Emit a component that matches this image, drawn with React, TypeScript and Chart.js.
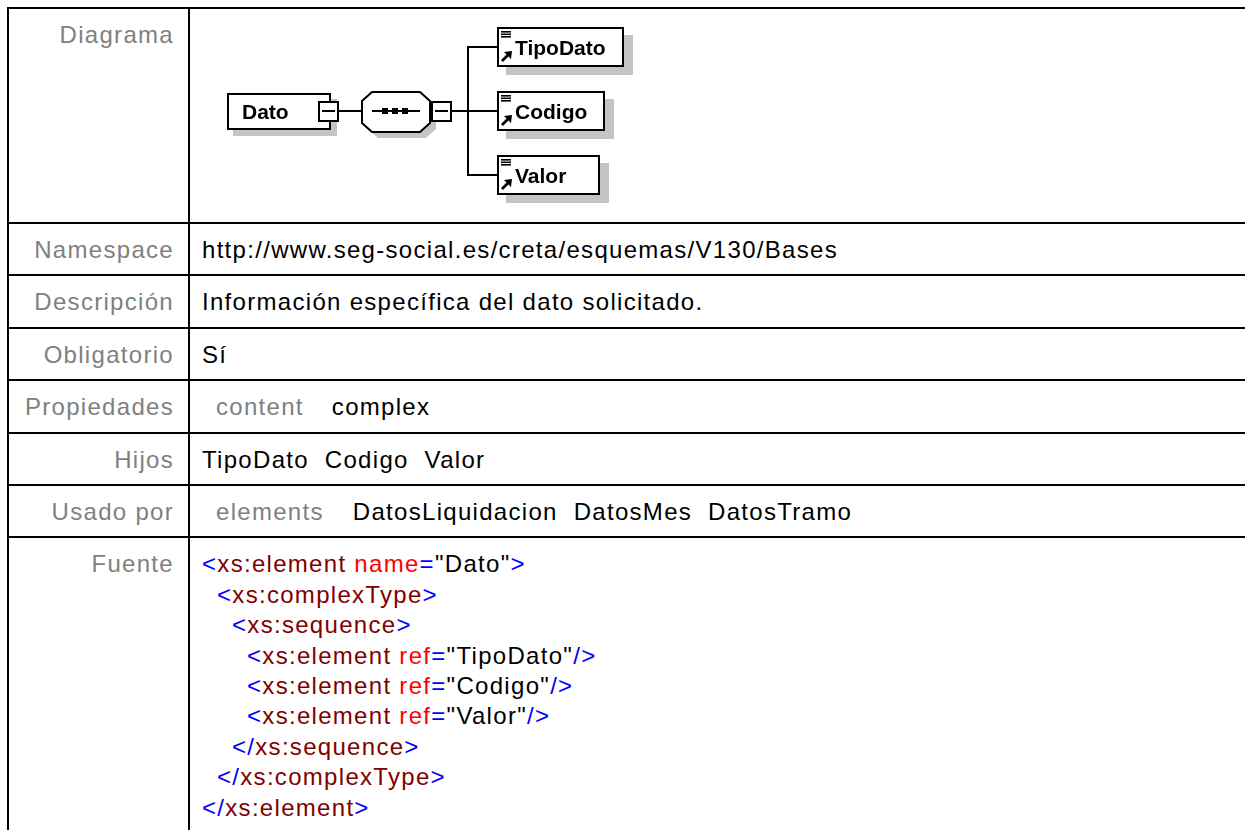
import React, { useEffect, useRef } from "react";
import { Chart, registerables } from "chart.js";

Chart.register(...registerables);

// ---------- data ----------
const ROW_LABELS = ["Diagrama", "Namespace", "Descripción", "Obligatorio", "Propiedades", "Hijos", "Usado por", "Fuente"];
const ROOT_ELEMENT = "Dato";
const CHILD_ELEMENTS = ["TipoDato", "Codigo", "Valor"];
const NAMESPACE = "http://www.seg-social.es/creta/esquemas/V130/Bases";
const DESCRIPTION = "Información específica del dato solicitado.";
const REQUIRED = "Sí";
const PROPERTY_NAMES = ["content"];
const PROPERTY_VALUES = ["complex"];
const USED_BY_KIND = "elements";
const USED_BY = ["DatosLiquidacion", "DatosMes", "DatosTramo"];

// diagram nodes: root, compositor, children (level = column, row = vertical slot)
const NODE_LEVELS = [0, 1, 2, 2, 2];
const NODE_ROWS = [1, 1, 0, 1, 2];

// axis domains of the (hidden) diagram scales
const X_MIN = -0.1973;
const X_MAX = 4.2373;
const Y_MIN = -0.4219;
const Y_MAX = 2.5937;

const FONT = '"Liberation Sans", Arial, Helvetica, sans-serif';
const SHADOW = "#c4c4c4";
const MIN_BOX_W = 103;

// ---------- drawing helpers ----------
function box(ctx: CanvasRenderingContext2D, x: number, y: number, w: number, h: number, lw = 2) {
  ctx.fillStyle = "#ffffff";
  ctx.fillRect(x, y, w, h);
  ctx.fillStyle = "#000000";
  ctx.fillRect(x, y, w, lw);
  ctx.fillRect(x, y + h - lw, w, lw);
  ctx.fillRect(x, y, lw, h);
  ctx.fillRect(x + w - lw, y, lw, h);
}
function hline(ctx: CanvasRenderingContext2D, x1: number, x2: number, y: number, lw = 2) {
  ctx.fillStyle = "#000000";
  ctx.fillRect(Math.min(x1, x2), y - lw / 2, Math.abs(x2 - x1), lw);
}
function vline(ctx: CanvasRenderingContext2D, x: number, y1: number, y2: number, lw = 2) {
  ctx.fillStyle = "#000000";
  ctx.fillRect(x - lw / 2, Math.min(y1, y2) - lw / 2, lw, Math.abs(y2 - y1) + lw);
}
function minusBox(ctx: CanvasRenderingContext2D, x: number, y: number, s: number) {
  box(ctx, x, y, s, s, 2);
  ctx.fillStyle = "#000000";
  ctx.fillRect(x + 4, y + Math.floor(s / 2) - 1, s - 8, 2);
}
function octagonPath(ctx: CanvasRenderingContext2D, x: number, top: number, w: number, h: number, c: number, cv: number) {
  ctx.beginPath();
  ctx.moveTo(x, top + cv);
  ctx.lineTo(x + c, top);
  ctx.lineTo(x + w - c, top);
  ctx.lineTo(x + w, top + cv);
  ctx.lineTo(x + w, top + h - cv);
  ctx.lineTo(x + w - c, top + h);
  ctx.lineTo(x + c, top + h);
  ctx.lineTo(x, top + h - cv);
  ctx.closePath();
}

const diagramPlugin = {
  id: "xsdDiagram",
  afterDatasetsDraw(chart: any) {
    const ctx: any = chart.ctx;
    const meta = chart.getDatasetMeta(0);
    const pts = meta.data.map((p: any) => ({ x: Math.round(p.x), y: Math.round(p.y) }));
    ctx.save();
    if ("letterSpacing" in ctx) ctx.letterSpacing = "0px";
    ctx.font = `bold 21px ${FONT}`;
    ctx.textBaseline = "alphabetic";

    // ----- root element -----
    const r = pts[0];
    const rtw = ctx.measureText(ROOT_ELEMENT).width;
    const rw = Math.max(MIN_BOX_W, Math.round(rtw + 57));
    const rh = 37;
    const ry = r.y - 18;
    ctx.fillStyle = SHADOW;
    ctx.fillRect(r.x + 6, ry + 6, rw, rh);
    box(ctx, r.x, ry, rw, rh);
    ctx.fillStyle = "#000000";
    ctx.fillText(ROOT_ELEMENT, r.x + 15, r.y + 8);
    const rmx = r.x + rw - 13;
    minusBox(ctx, rmx, r.y - 10, 21);

    // ----- compositor (sequence) -----
    const c = pts[1];
    const ow = 68;
    const oh = 40;
    const otop = c.y - 19;
    hline(ctx, rmx + 21, c.x, r.y);
    ctx.save();
    ctx.translate(6, 6);
    octagonPath(ctx, c.x, otop, ow, oh, 10, 9);
    ctx.fillStyle = SHADOW;
    ctx.fill();
    ctx.restore();
    octagonPath(ctx, c.x, otop, ow, oh, 10, 9);
    ctx.fillStyle = "#ffffff";
    ctx.fill();
    ctx.lineWidth = 2;
    ctx.strokeStyle = "#000000";
    ctx.stroke();
    hline(ctx, c.x + 10, c.x + 58, c.y);
    ctx.fillStyle = "#000000";
    [23, 33, 43].forEach((dx) => ctx.fillRect(c.x + dx - 3, c.y - 3, 6, 6));
    const cmx = c.x + ow + 1;
    minusBox(ctx, cmx, c.y - 10, 21);

    // ----- children -----
    const childPts = pts.slice(2);
    const trunkX = childPts[0].x - 29;
    hline(ctx, cmx + 21, trunkX, c.y);
    vline(ctx, trunkX, childPts[0].y, childPts[childPts.length - 1].y);
    childPts.forEach((p: any, i: number) => {
      const name = CHILD_ELEMENTS[i];
      const tw = ctx.measureText(name).width;
      const w = Math.max(MIN_BOX_W, Math.round(tw + 36));
      const h = 40;
      const top = p.y - 20;
      hline(ctx, trunkX, p.x, p.y);
      ctx.fillStyle = SHADOW;
      ctx.fillRect(p.x + 9, top + 8, w, h);
      box(ctx, p.x, top, w, h);
      // "element" icon: three short lines
      ctx.fillStyle = "#000000";
      [4, 6.5, 9].forEach((dy) => ctx.fillRect(p.x + 4, top + dy, 10, 1.6));
      // reference arrow
      ctx.beginPath();
      ctx.moveTo(p.x + 5, top + 34);
      ctx.lineTo(p.x + 11, top + 28);
      ctx.lineWidth = 2.6;
      ctx.strokeStyle = "#000000";
      ctx.stroke();
      ctx.beginPath();
      ctx.moveTo(p.x + 15, top + 24);
      ctx.lineTo(p.x + 7, top + 25);
      ctx.lineTo(p.x + 14, top + 32);
      ctx.closePath();
      ctx.fill();
      ctx.fillText(name, p.x + 18, p.y + 8);
    });
    ctx.restore();
  },
};

function Diagram() {
  const ref = useRef<HTMLCanvasElement>(null);
  useEffect(() => {
    const chart = new Chart(ref.current as HTMLCanvasElement, {
      type: "scatter",
      data: {
        datasets: [
          {
            data: NODE_LEVELS.map((l, i) => ({ x: l, y: NODE_ROWS[i] })),
            pointRadius: 0,
            pointHoverRadius: 0,
          },
        ],
      },
      options: {
        animation: false,
        responsive: false,
        events: [],
        layout: { padding: 0, autoPadding: false },
        plugins: { legend: { display: false }, tooltip: { enabled: false } },
        scales: {
          x: { type: "linear", display: false, min: X_MIN, max: X_MAX },
          y: { type: "linear", display: false, min: Y_MIN, max: Y_MAX, reverse: true },
        },
      } as any,
      plugins: [diagramPlugin as any],
    });
    return () => chart.destroy();
  }, []);
  return (
    <canvas
      ref={ref}
      width={600}
      height={193}
      style={{ display: "block", width: 600, height: 193, letterSpacing: "normal" }}
    />
  );
}

// ---------- table ----------
const GRAY = "#808080";
const BLUE = "#0000ff";
const DARKRED = "#800000";
const RED = "#ff0000";
const LINE_H = 30.4;

const labelStyle: React.CSSProperties = {
  width: 183,
  minWidth: 183,
  boxSizing: "border-box",
  borderLeft: "2px solid #000",
  borderTop: "2px solid #000",
  borderRight: "2px solid #000",
  padding: "11px 14px 9px 0",
  textAlign: "right",
  color: GRAY,
  verticalAlign: "top",
  whiteSpace: "nowrap",
};
const valueStyle: React.CSSProperties = {
  borderTop: "2px solid #000",
  padding: "11px 0 9px 12px",
  color: "#000",
  verticalAlign: "top",
  whiteSpace: "nowrap",
};

function Tag({ indent, close, name, attr, value, selfClose }: { indent: number; close?: boolean; name: string; attr?: string; value?: string; selfClose?: boolean }) {
  return (
    <div style={{ marginLeft: indent * 15, height: LINE_H }}>
      <span style={{ color: BLUE }}>{close ? "</" : "<"}</span>
      <span style={{ color: DARKRED }}>{name}</span>
      {attr ? (
        <>
          <span> </span>
          <span style={{ color: RED }}>{attr}</span>
          <span style={{ color: BLUE }}>=</span>
          <span style={{ color: "#000" }}>"{value}"</span>
        </>
      ) : null}
      <span style={{ color: BLUE }}>{selfClose ? "/>" : ">"}</span>
    </div>
  );
}

export default function App() {
  const gap = "\u00a0 ";
  return (
    <div
      style={{
        position: "fixed",
        left: 0,
        top: 0,
        width: 1245,
        height: 830,
        overflow: "hidden",
        background: "#fff",
        fontFamily: FONT,
        fontSize: 24,
        letterSpacing: "1.3px",
        lineHeight: `${LINE_H}px`,
      }}
    >
      <table style={{ position: "absolute", left: 7, top: 7, width: 1320, borderCollapse: "separate", borderSpacing: 0 }}>
        <tbody>
          <tr>
            <td style={labelStyle}>{ROW_LABELS[0]}</td>
            <td style={{ ...valueStyle, paddingLeft: 10, lineHeight: "normal" }}>
              <div style={{ height: 193 }}>
                <Diagram />
              </div>
            </td>
          </tr>
          <tr>
            <td style={labelStyle}>{ROW_LABELS[1]}</td>
            <td style={valueStyle}>{NAMESPACE}</td>
          </tr>
          <tr>
            <td style={labelStyle}>{ROW_LABELS[2]}</td>
            <td style={valueStyle}>{DESCRIPTION}</td>
          </tr>
          <tr>
            <td style={labelStyle}>{ROW_LABELS[3]}</td>
            <td style={valueStyle}>{REQUIRED}</td>
          </tr>
          <tr>
            <td style={labelStyle}>{ROW_LABELS[4]}</td>
            <td style={valueStyle}>
              {PROPERTY_NAMES.map((n, i) => (
                <span key={n}>
                  <span style={{ color: GRAY, marginLeft: 14 }}>{n}</span>
                  <span style={{ marginLeft: 28 }}>{PROPERTY_VALUES[i]}</span>
                </span>
              ))}
            </td>
          </tr>
          <tr>
            <td style={labelStyle}>{ROW_LABELS[5]}</td>
            <td style={valueStyle}>{CHILD_ELEMENTS.join(gap)}</td>
          </tr>
          <tr>
            <td style={labelStyle}>{ROW_LABELS[6]}</td>
            <td style={valueStyle}>
              <span style={{ color: GRAY, marginLeft: 14 }}>{USED_BY_KIND}</span>
              <span style={{ marginLeft: 29 }}>{USED_BY.join(gap)}</span>
            </td>
          </tr>
          <tr>
            <td style={labelStyle}>{ROW_LABELS[7]}</td>
            <td style={valueStyle}>
              <Tag indent={0} name="xs:element" attr="name" value={ROOT_ELEMENT} />
              <Tag indent={1} name="xs:complexType" />
              <Tag indent={2} name="xs:sequence" />
              {CHILD_ELEMENTS.map((c) => (
                <Tag key={c} indent={3} name="xs:element" attr="ref" value={c} selfClose />
              ))}
              <Tag indent={2} close name="xs:sequence" />
              <Tag indent={1} close name="xs:complexType" />
              <Tag indent={0} close name="xs:element" />
              <div style={{ height: 60 }} />
            </td>
          </tr>
        </tbody>
      </table>
    </div>
  );
}
